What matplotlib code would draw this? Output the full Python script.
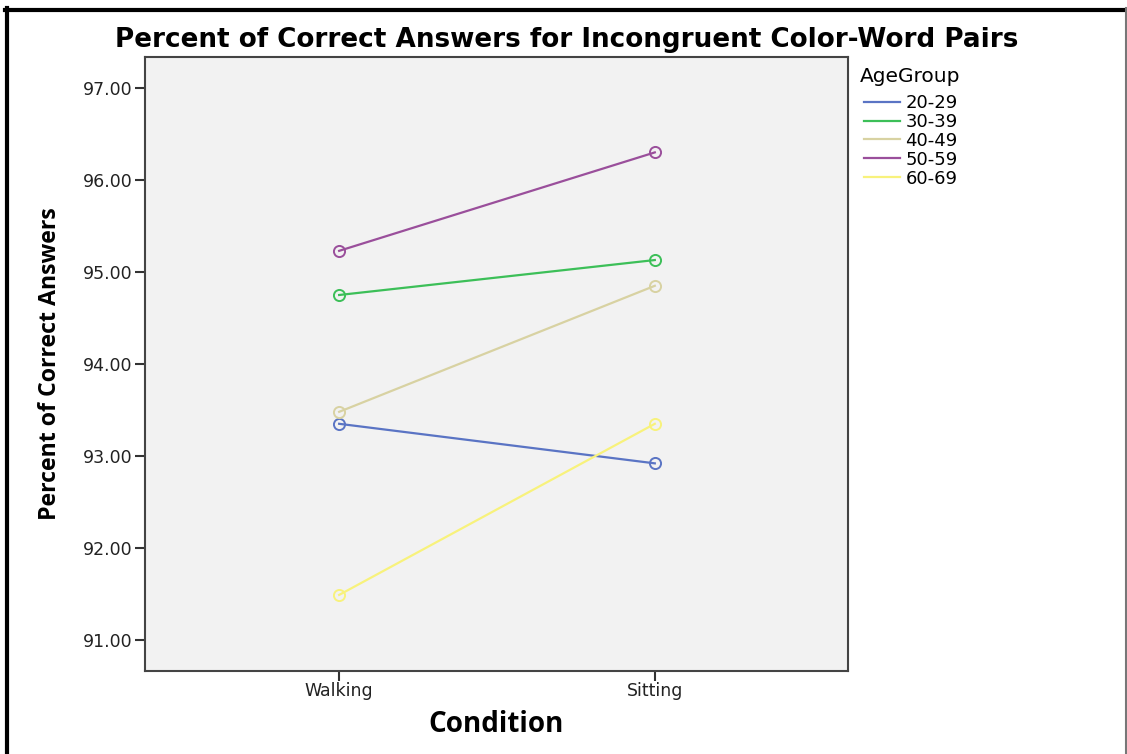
import matplotlib.pyplot as plt
from matplotlib.lines import Line2D

conditions = ['Walking', 'Sitting']
age_groups = ['20-29', '30-39', '40-49', '50-59', '60-69']
walking = [93.35, 94.75, 93.48, 95.23, 91.49]
sitting = [92.92, 95.13, 94.85, 96.30, 93.35]
colors = ['#5a74c4', '#3cbf58', '#d8d2a2', '#9a4f9b', '#f8f27c']
y_ticks = [91, 92, 93, 94, 95, 96, 97]

plt.rcParams['font.family'] = ['DejaVu Sans']

fig = plt.figure(figsize=(11.27, 7.54), dpi=100)
W, H = 1127, 754
ax = fig.add_axes([145 / W, 1 - 671 / H, (848 - 145) / W, (671 - 57) / H])
ax.set_facecolor('#f2f2f2')

x = range(len(conditions))
for i, grp in enumerate(age_groups):
    ax.plot(x, [walking[i], sitting[i]], color=colors[i], lw=1.6,
            marker='o', markersize=8, markerfacecolor='none',
            markeredgecolor=colors[i], markeredgewidth=1.4, label=grp)

ax.set_xlim(-0.615, 1.612)
ax.set_ylim(90.663, 97.337)
ax.set_xticks(list(x))
ax.set_xticklabels(conditions, fontsize=12.5, color='#222222')
ax.set_yticks(y_ticks)
ax.set_yticklabels(['%.2f' % v for v in y_ticks], fontsize=12.5, color='#222222')
ax.tick_params(length=7, width=1.5, color='#333333', pad=2)
ax.tick_params(axis='x', pad=1)
for s in ax.spines.values():
    s.set_color('#444444')
    s.set_linewidth(1.5)

ax.set_xlabel('Condition', family='Open Sans', fontsize=20, fontweight='bold', labelpad=7)
ax.set_ylabel('Percent of Correct Answers', family='Open Sans', fontsize=16.7,
              fontweight='bold', labelpad=15)
fig.text(567 / W, 1 - 40 / H, 'Percent of Correct Answers for Incongruent Color-Word Pairs',
         ha='center', va='center', fontsize=18.9, fontweight='bold')

# legend (title drawn separately to match the spacing)
fig.text(860 / W, 1 - 77 / H, 'AgeGroup', ha='left', va='center', fontsize=14.5)
leg = ax.legend(loc='upper left', bbox_to_anchor=(864 / W, 1 - 94 / H),
                bbox_transform=fig.transFigure, frameon=False,
                fontsize=13, handlelength=2.0, handletextpad=0.3,
                labelspacing=0.05, borderaxespad=0, borderpad=0)
for h in leg.legend_handles:
    h.set_marker('')

# outer frame like the exported SPSS chart
fig.add_artist(Line2D([6.5 / W, 6.5 / W], [0, 1 - 8 / H], color='black', lw=3))
fig.add_artist(Line2D([5 / W, 1126 / W], [1 - 9.5 / H, 1 - 9.5 / H], color='black', lw=3))
fig.add_artist(Line2D([1126 / W, 1126 / W], [0, 1 - 8 / H], color='#777777', lw=1.5))

fig.savefig('out.png', dpi=100)
